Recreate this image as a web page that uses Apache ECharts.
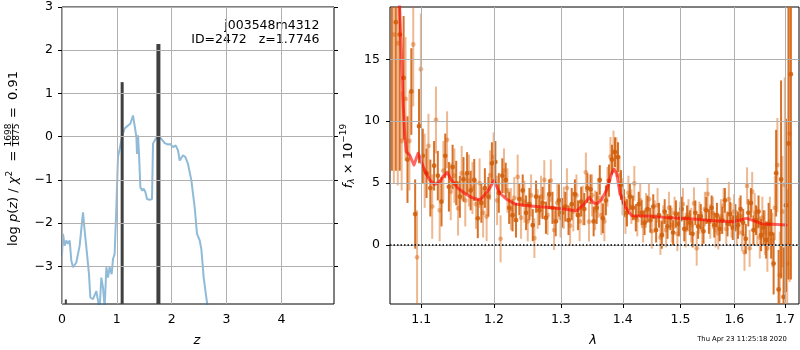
<!DOCTYPE html>
<html>
<head>
<meta charset="utf-8">
<script src="https://cdn.jsdelivr.net/npm/echarts@6/dist/echarts.min.js"></script>
<style>
html, body { margin: 0; padding: 0; background: #fff; }
#chart { width: 800px; height: 350px; }
</style>
</head>
<body>
<div id="chart"></div>
<script>
// ---- redshift panel: log p(z) curve and the peak markers ----
const zGrid = [0.000,0.018,0.049,0.079,0.109,0.140,0.170,0.201,0.231,0.261,
  0.292,0.322,0.353,0.383,0.413,0.456,0.492,0.517,0.565,0.626,
  0.663,0.687,0.717,0.748,0.778,0.809,0.839,0.869,0.906,0.930,
  0.960,0.991,1.021,1.052,1.100,1.143,1.204,1.246,1.295,1.325,
  1.356,1.368,1.386,1.404,1.429,1.465,1.489,1.520,1.550,1.599,
  1.641,1.660,1.708,1.751,1.812,1.872,1.933,1.976,2.024,2.073,
  2.116,2.146,2.176,2.207,2.249,2.298,2.359,2.419,2.462,2.511,
  2.541,2.584,2.632,2.657,2.700];
const logPz = [-2.75,-2.25,-2.52,-2.40,-2.48,-2.40,-2.87,-3.02,-3.06,-2.91,
  -2.95,-2.52,-2.56,-1.75,-2.17,-2.71,-3.18,-3.72,-3.76,-3.57,
  -3.84,-3.95,-3.26,-3.49,-3.95,-3.02,-3.26,-3.02,-3.18,-2.83,
  -2.71,-1.63,-0.47,-0.28,0.03,0.19,0.26,0.30,0.49,0.49,
  0.00,-0.40,0.03,-0.39,-1.17,-1.25,-1.20,-1.28,-1.44,-1.46,
  -1.44,-0.16,-0.05,0.00,-0.05,-0.15,-0.18,-0.17,-0.24,-0.20,
  -0.32,-0.55,-0.51,-0.43,-0.47,-0.63,-1.01,-1.63,-2.25,-2.40,
  -2.60,-3.26,-3.72,-3.95,-4.60];
const peakZ = [0.070, 1.097, 1.758];
const peakLogP = [-3.765, 1.262, 2.143];
const zTicks = [0, 1, 2, 3, 4];
const logPTicks = [-3, -2, -1, 0, 1, 2, 3];

// ---- spectrum panel: two extracted spectra and the best-fit model ----
const lamA = [1.062,1.067,1.072,1.077,1.082,1.087,1.092,1.097,1.102,1.107,
  1.112,1.117,1.122,1.127,1.132,1.137,1.142,1.147,1.152,1.157,
  1.162,1.167,1.172,1.177,1.182,1.187,1.192,1.197,1.202,1.207,
  1.212,1.217,1.222,1.227,1.232,1.237,1.242,1.247,1.252,1.257,
  1.262,1.267,1.272,1.277,1.282,1.287,1.292,1.297,1.302,1.307,
  1.312,1.317,1.322,1.327,1.332,1.337,1.342,1.347,1.352,1.357,
  1.362,1.367,1.372,1.377,1.382,1.387,1.392,1.397,1.402,1.407,
  1.412,1.417,1.422,1.427,1.432,1.437,1.442,1.447,1.452,1.457,
  1.462,1.467,1.472,1.477,1.482,1.487,1.492,1.497,1.502,1.507,
  1.512,1.517,1.522,1.527,1.532,1.537,1.542,1.547,1.552,1.557,
  1.562,1.567,1.572,1.577,1.582,1.587,1.592,1.597,1.602,1.607,
  1.612,1.617,1.622,1.627,1.632,1.637,1.642,1.647,1.652,1.657,
  1.662,1.667,1.672,1.677,1.682,1.687,1.692,1.697,1.702,1.707,
  1.712];
const fluxA = [20,18,17,13.5,6.9,12.4,2.5,9.6,7.2,5.8,
  4.6,6.4,5.6,3.5,7.2,4.7,6.3,5.0,3.9,5.3,
  5.8,4.4,5.25,2.15,3.4,4.6,3.9,6.6,6.7,4.2,
  5.6,5.25,3.0,2.4,2.0,3.7,4.4,2.6,3.3,1.6,
  3.9,2.8,3.4,2.2,4.1,3.0,1.9,3.6,2.6,3.1,
  2.0,3.3,4.1,2.4,3.5,2.9,4.6,4.5,1.9,3.0,
  5.25,2.15,3.6,5.2,6.9,7.5,7.1,4.85,3.4,2.6,
  3.9,3.0,2.2,3.3,2.6,1.8,2.9,2.0,3.1,1.2,
  2.4,0.8,2.7,1.5,2.2,1.0,2.5,1.7,2.9,1.3,
  2.2,1.8,0.9,2.6,1.5,2.3,1.1,2.8,1.9,3.0,
  1.6,2.4,1.3,2.0,3.6,1.7,2.5,1.4,2.2,1.6,
  2.9,1.8,0.5,2.6,3.4,1.2,2.0,2.7,0.8,1.4,
  0.4,1.7,0.9,-1.5,5.8,-3.6,5.3,-4.2,3.2,8.2,
  13.8];
const errA = [14,12,11,5,3.5,3.5,2.8,3,2.2,2,
  2.3,2,2,2,1.8,2,1.8,1.8,1.7,1.8,
  1.7,1.6,1.7,1.6,1.6,1.6,1.6,1.7,1.7,1.6,
  1.4,1.4,1.3,1.3,1.4,1.3,1.3,1.4,1.3,1.3,
  1.3,1.2,1.3,1.3,1.2,1.3,1.2,1.3,1.2,1.2,
  1.2,1.3,1.2,1.2,1.2,1.3,1.2,1.2,1.2,1.3,
  1.2,1.2,1.2,1.3,1.2,1.2,1.2,1.2,1.1,1.1,
  1.1,1.0,1.1,1.0,1.0,1.0,1.1,1.0,1.0,1.0,
  1.0,1.1,1.0,1.0,1.0,1.0,1.1,1.0,1.0,1.0,
  1.0,1.0,1.1,1.0,1.0,1.0,1.0,1.1,1.0,1.0,
  1.0,1.0,1.0,1.1,1.0,1.0,1.0,1.0,1.1,1.1,
  1.1,1.1,1.2,1.1,1.2,1.2,1.2,1.3,1.3,1.4,
  1.5,1.7,2.0,2.5,3.5,3.2,8,4,7,11,
  16.6];
const lamB = [1.0645,1.0695,1.0745,1.0795,1.0845,1.0895,1.0945,1.0995,1.1045,1.1095,
  1.1145,1.1195,1.1245,1.1295,1.1345,1.1395,1.1445,1.1495,1.1545,1.1595,
  1.1645,1.1695,1.1745,1.1795,1.1845,1.1895,1.1945,1.1995,1.2045,1.2095,
  1.2145,1.2195,1.2245,1.2295,1.2345,1.2395,1.2445,1.2495,1.2545,1.2595,
  1.2645,1.2695,1.2745,1.2795,1.2845,1.2895,1.2945,1.2995,1.3045,1.3095,
  1.3145,1.3195,1.3245,1.3295,1.3345,1.3395,1.3445,1.3495,1.3545,1.3595,
  1.3645,1.3695,1.3745,1.3795,1.3845,1.3895,1.3945,1.3995,1.4045,1.4095,
  1.4145,1.4195,1.4245,1.4295,1.4345,1.4395,1.4445,1.4495,1.4545,1.4595,
  1.4645,1.4695,1.4745,1.4795,1.4845,1.4895,1.4945,1.4995,1.5045,1.5095,
  1.5145,1.5195,1.5245,1.5295,1.5345,1.5395,1.5445,1.5495,1.5545,1.5595,
  1.5645,1.5695,1.5745,1.5795,1.5845,1.5895,1.5945,1.5995,1.6045,1.6095,
  1.6145,1.6195,1.6245,1.6295,1.6345,1.6395,1.6445,1.6495,1.6545,1.6595,
  1.6645,1.6695,1.6745,1.6795,1.6845,1.6895,1.6945,1.6995,1.7045,1.7095];
const fluxB = [17,16.3,8.4,11.8,8.4,16.2,-1.0,14.2,6.0,8.0,
  3.1,10.1,2.8,6.0,8.5,4.3,5.6,2.96,5.8,3.6,
  5.2,4.6,3.3,5.0,2.6,2.3,5.65,7.1,3.6,0.5,
  6.0,4.4,2.9,3.8,5.5,2.2,3.5,1.9,4.0,0.55,
  2.9,3.9,5.25,2.4,5.2,1.2,3.4,2.2,3.0,4.6,
  1.56,2.7,4.0,1.9,3.2,5.87,1.88,4.0,2.8,3.8,
  2.4,1.9,4.7,7.13,7.54,7.1,5.6,3.9,2.4,4.2,
  3.1,4.98,2.0,3.6,1.5,2.8,3.7,1.1,2.3,3.2,
  0.6,1.9,1.21,3.0,1.6,2.6,0.9,2.1,3.3,1.2,
  2.4,1.6,3.36,-0.27,2.2,1.3,2.9,4.12,1.9,2.6,
  1.2,0.94,2.3,3.2,1.3,3.7,2.0,2.7,1.4,2.3,
  1.0,-0.59,4.77,-0.27,4.3,2.6,1.5,0.6,2.2,1.0,
  -0.27,1.9,0.4,3.0,6.46,-2.42,2.69,4.85,-1.5,9.0];
const errB = [12,11.5,4,5,4,5,3.8,4.5,3,2.6,
  2.6,2.7,2.5,2.4,2.3,2.3,2.2,2.2,2.2,2.1,
  2.1,2.1,2.0,2.0,2.0,2.0,2.0,2.0,2.0,1.9,
  1.8,1.8,1.7,1.7,1.8,1.7,1.7,1.6,1.7,1.6,
  1.6,1.7,1.6,1.6,1.7,1.6,1.6,1.6,1.7,1.6,
  1.6,1.6,1.7,1.6,1.6,1.6,1.6,1.7,1.6,1.6,
  1.6,1.6,1.6,1.6,1.7,1.6,1.6,1.5,1.5,1.4,
  1.4,1.4,1.3,1.4,1.3,1.4,1.3,1.4,1.3,1.4,
  1.4,1.3,1.4,1.3,1.4,1.3,1.4,1.4,1.3,1.4,
  1.3,1.4,1.3,1.4,1.3,1.4,1.4,1.3,1.4,1.3,
  1.4,1.3,1.4,1.4,1.3,1.4,1.4,1.4,1.4,1.5,
  1.5,1.5,1.5,1.5,1.6,1.6,1.6,1.7,1.7,1.8,
  1.9,2.0,2.2,2.6,3.8,3.5,4.5,8.7,6,12];
const modelLam = [1.0700,1.0719,1.0740,1.0762,1.0784,1.0804,1.0848,1.0904,1.0957,1.1000,
  1.1053,1.1111,1.1178,1.1245,1.1289,1.1348,1.1402,1.1494,1.1587,1.1678,
  1.1796,1.1867,1.1938,1.2000,1.2087,1.2184,1.2306,1.2528,1.2781,1.3038,
  1.3249,1.3354,1.3450,1.3515,1.3570,1.3651,1.3733,1.3816,1.3854,1.3899,
  1.3954,1.4037,1.4151,1.4407,1.4697,1.4993,1.5296,1.5603,1.5980,1.6109,
  1.6239,1.6336,1.6533,1.6764,1.7021];
const modelFlux = [21,19.2,15.75,11.7,9.0,7.54,7.27,6.46,7.4,6.73,
  5.92,5.25,4.9,5.11,5.52,5.87,5.25,4.58,4.18,3.85,
  3.63,4.04,4.58,5.2,4.18,3.69,3.31,3.15,3.05,2.91,
  2.77,3.23,3.85,3.42,3.31,3.69,4.44,5.79,6.11,5.79,
  4.18,3.1,2.37,2.34,2.23,2.15,2.07,1.96,1.88,2.02,
  2.15,2.02,1.70,1.67,1.62];
const lamTicks = [1.1, 1.2, 1.3, 1.4, 1.5, 1.6, 1.7];
const fluxTicks = [0, 5, 10, 15];

// axis limits
const Z_MIN = 0, Z_MAX = 4.96, LP_MIN = -3.87, LP_MAX = 3;
const LAM_MIN = 1.0596, LAM_MAX = 1.7287, F_MIN = -4.77, F_MAX = 19.23;

// styles
const BAR_W = [2, 3, 4];
const DARK = 'rgba(210,95,10,0.88)';
const LIGHT = 'rgba(217,98,12,0.45)';
const GRID_STYLE = { color: '#b0b0b0', width: 1, type: 'solid' };
const FAMILY = '"DejaVu Sans"';
const LABEL = { color: '#000', fontSize: 12.5, fontFamily: 'DejaVu Sans' };

// text helpers for the hand-set axis titles
const mctx = document.createElement('canvas').getContext('2d');
function fnt(sz, it) { return (it ? 'italic ' : '') + sz + 'px ' + FAMILY; }
function tw(t, sz, it) { mctx.font = fnt(sz, it); return mctx.measureText(t).width; }
const MID = 0.346; // em-box middle above the baseline
function txt(t, x, base, sz, it, align) {
  return { type: 'text', x: x, y: base - MID * sz,
    style: { text: t, font: fnt(sz, it), fill: '#000', textAlign: align || 'left',
      textVerticalAlign: 'middle', verticalAlign: 'middle' } };
}
function run(pieces, x0, base) {
  let x = x0; const out = [];
  pieces.forEach(p => { out.push(txt(p[0], x, base + (p[3] || 0), p[1], p[2])); x += tw(p[0], p[1], p[2]); });
  return out;
}

const minus = v => (v < 0 ? '\u2212' + (-v) : String(v));

function errRender(color) {
  return function (params, api) {
    const x = api.value(0), y = api.value(1), e = api.value(2);
    const p = api.coord([x, y]);
    const lo = api.coord([x, y - e]);
    const hi = api.coord([x, y + e]);
    return { type: 'group', children: [
      { type: 'line', shape: { x1: p[0], y1: lo[1], x2: p[0], y2: hi[1] }, style: { stroke: color, lineWidth: 2 } },
      { type: 'circle', shape: { cx: p[0], cy: p[1], r: 2.4 }, style: { fill: color } }
    ] };
  };
}

// grid lines at the tick values, drawn beneath the data
function gridLines(xVals, yVals) {
  return { silent: true, symbol: ['none', 'none'], animation: false,
    label: { show: false }, emphasis: { disabled: true },
    lineStyle: GRID_STYLE,
    data: xVals.map(v => ({ xAxis: v })).concat(yVals.map(v => ({ yAxis: v }))) };
}

const chart = echarts.init(document.getElementById('chart'), null, { renderer: 'canvas' });

const pzLabel = [].concat(
  run([['log ', 13], ['p', 13, true], ['(', 13], ['z', 13, true], [')', 13], [' / ', 13],
       ['\u03c7', 13, true], ['2', 9, false, -5.5]], 0, 18.5),
  [txt('=', 90, 18.5, 13, false, 'center'),
   txt('1698', 111, 11.8, 9, false, 'center'),
   { type: 'line', shape: { x1: 99.5, y1: 12.6, x2: 122.5, y2: 12.6 }, style: { stroke: '#000', lineWidth: 0.8 } },
   txt('1875', 111, 19.3, 9, false, 'center'),
   txt('=', 133.5, 18.5, 13, false, 'center'),
   txt('0.91', 175, 18.5, 13, false, 'right')]
);
const fluxLabel = run([['f', 13, true], ['\u03bb', 9, true, 2.5], [' \u00d7 10', 13], ['\u221219', 9, false, -5.5]], 0, 352.7);

chart.setOption({
  animation: false,
  backgroundColor: '#fff',
  grid: [
    { left: 62, top: 7, width: 272, height: 297, show: true, borderColor: '#000', borderWidth: 1, outerBoundsMode: 'none' },
    { left: 390, top: 7, width: 409, height: 297, show: true, borderColor: '#000', borderWidth: 1, outerBoundsMode: 'none' }
  ],
  xAxis: [
    { gridIndex: 0, type: 'value', min: Z_MIN, max: Z_MAX,
      axisLine: { show: false },
      axisTick: { show: true, length: 4, customValues: zTicks, lineStyle: { color: '#000' } },
      axisLabel: Object.assign({ customValues: zTicks, margin: 9 }, LABEL),
      splitLine: { show: false } },
    { gridIndex: 1, type: 'log', logBase: 10, min: LAM_MIN, max: LAM_MAX, show: false, position: 'top',
      splitLine: { show: false } },
    { gridIndex: 1, type: 'value', min: Math.log10(LAM_MIN), max: Math.log10(LAM_MAX),
      axisLine: { show: false },
      axisTick: { show: true, length: 4, customValues: lamTicks.map(Math.log10), lineStyle: { color: '#000' } },
      axisLabel: Object.assign({ customValues: lamTicks.map(Math.log10), margin: 9,
        formatter: v => Math.pow(10, v).toFixed(1) }, LABEL),
      splitLine: { show: false } }
  ],
  yAxis: [
    { gridIndex: 0, type: 'value', min: LP_MIN, max: LP_MAX, position: 'left',
      axisLine: { show: false },
      axisTick: { show: true, length: 4, customValues: logPTicks, lineStyle: { color: '#000' } },
      axisLabel: Object.assign({ customValues: logPTicks, margin: 9, formatter: minus }, LABEL),
      splitLine: { show: false } },
    { gridIndex: 0, type: 'value', min: LP_MIN, max: LP_MAX, position: 'right',
      axisLine: { show: false },
      axisTick: { show: true, length: 4, customValues: logPTicks, lineStyle: { color: '#000' } },
      axisLabel: { show: false },
      splitLine: { show: false } },
    { gridIndex: 1, type: 'value', min: F_MIN, max: F_MAX,
      axisLine: { show: false },
      axisTick: { show: true, length: 4, customValues: fluxTicks, lineStyle: { color: '#000' } },
      axisLabel: Object.assign({ customValues: fluxTicks, margin: 10 }, LABEL),
      splitLine: { show: false } }
  ],
  series: [
    { type: 'line', xAxisIndex: 0, yAxisIndex: 0, data: [], z: 1, silent: true,
      markLine: gridLines(zTicks, logPTicks) },
    { type: 'line', xAxisIndex: 1, yAxisIndex: 2, data: [], z: 1, silent: true,
      markLine: gridLines(lamTicks, fluxTicks) },
    { type: 'line', xAxisIndex: 0, yAxisIndex: 0, symbol: 'none', showSymbol: false, clip: true, z: 2,
      data: zGrid.map((z, i) => [z, logPz[i]]),
      lineStyle: { color: 'rgba(31,119,180,0.5)', width: 2 } },
    { type: 'custom', xAxisIndex: 0, yAxisIndex: 0, clip: true, z: 3,
      encode: { x: 0, y: 1 },
      data: peakZ.map((z, i) => [z, peakLogP[i]]),
      renderItem: (params, api) => {
        const top = api.coord([api.value(0), api.value(1)]);
        const base = api.coord([api.value(0), LP_MIN]);
        const w = BAR_W[params.dataIndex];
        return { type: 'rect', shape: { x: top[0] - w / 2, y: top[1], width: w, height: base[1] - top[1] },
          style: { fill: '#404040' } };
      } },
    { type: 'custom', xAxisIndex: 1, yAxisIndex: 2, clip: true, z: 2,
      encode: { x: 0, y: 1 },
      data: lamB.map((l, i) => [l, fluxB[i], errB[i]]),
      renderItem: errRender(LIGHT) },
    { type: 'custom', xAxisIndex: 1, yAxisIndex: 2, clip: true, z: 3,
      encode: { x: 0, y: 1 },
      data: lamA.map((l, i) => [l, fluxA[i], errA[i]]),
      renderItem: errRender(DARK) },
    { type: 'line', xAxisIndex: 1, yAxisIndex: 2, symbol: 'none', showSymbol: false, clip: true, z: 4,
      data: modelLam.map((l, i) => [l, modelFlux[i]]),
      lineStyle: { color: 'rgba(255,0,0,0.6)', width: 3, join: 'round', cap: 'round' } },
    { type: 'line', xAxisIndex: 1, yAxisIndex: 2, symbol: 'none', showSymbol: false, clip: true, z: 5,
      data: [[LAM_MIN, 0], [LAM_MAX, 0]],
      lineStyle: { color: '#000', width: 1.5, type: [1.5, 2] } }
  ],
  graphic: { elements: [
    { type: 'group', x: 0, y: 246, rotation: Math.PI / 2, children: pzLabel },
    { type: 'group', x: 0, y: 188.3, rotation: Math.PI / 2, children: fluxLabel },
    txt('z', 197, 345, 13, true, 'center'),
    txt('\u03bb', 593, 345, 13, true, 'center'),
    txt('j003548m4312', 319.5, 30, 12.5, false, 'right'),
    txt('ID=2472   z=1.7746', 319.5, 44.3, 12.5, false, 'right'),
    txt('Thu Apr 23 11:25:18 2020', 742, 341.7, 6.8, false, 'center')
  ] }
});
</script>
</body>
</html>
